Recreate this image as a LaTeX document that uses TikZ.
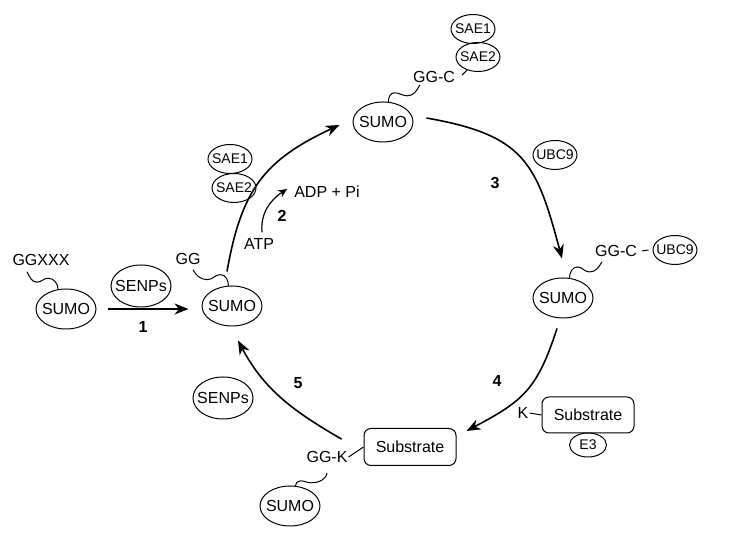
\documentclass[tikz, border = 0pt]{standalone}
\usepackage{fontspec}
\setmainfont{Liberation Sans}
\usetikzlibrary{shapes.geometric, arrows.meta}

\begin{document}
\begin{tikzpicture}[> = {Stealth[length = 14pt, width = 11pt]}, x = 1pt, y = 1pt,
	protein/.style = {draw, ellipse, line width = 1pt, inner xsep = -10pt, inner ysep = 0pt, minimum width = 60pt, minimum height = 40pt, font = \fontsize{16}{19}\selectfont},
	enzyme/.style = {draw, ellipse, line width = 1pt, inner xsep = -6pt, inner ysep = 0pt, minimum width = 44pt, minimum height = 29pt, font = \fontsize{14}{17}\selectfont},
	substrate/.style = {draw, rectangle, rounded corners = 7pt, line width = 1pt, minimum width = 92pt, minimum height = 37pt, font = \fontsize{16}{19}\selectfont},
	tag/.style = {inner sep = 1pt, font = \fontsize{16}{19}\selectfont},
	stepnum/.style = {inner sep = 1pt, font = \fontsize{16}{19}\selectfont\bfseries},
	linker/.style = {line width = 1pt}]

	\useasboundingbox (0, 0) rectangle (733, 545);

	\node [protein] (sumoA) at (66, 236) {SUMO};
	\node [protein, minimum height = 42pt] (senpsA) at (141, 259) {SENPs};
	\node [protein] (sumoB) at (232, 239) {SUMO};
	\node [protein] (sumoC) at (383, 423) {SUMO};
	\node [protein] (sumoD) at (563, 247) {SUMO};
	\node [protein] (sumoE) at (290, 39) {SUMO};
	\node [protein, minimum height = 42pt] (senpsB) at (223, 147) {SENPs};

	\node [enzyme] (sae1A) at (230, 386) {SAE1};
	\node [enzyme] (sae2A) at (234, 357) {SAE2};
	\node [enzyme] (sae1B) at (473, 516) {SAE1};
	\node [enzyme] (sae2B) at (478, 488) {SAE2};
	\node [enzyme] (ubcA) at (555, 390) {UBC9};
	\node [enzyme] (ubcB) at (675, 295) {UBC9};

	\node [substrate] (subA) at (410, 98) {Substrate};
	\node [substrate, minimum height = 36pt] (subB) at (588, 130) {Substrate};
	\node [enzyme, minimum width = 37pt, minimum height = 24pt] (eThree) at (588, 100) {E3};

	\node [tag] (ggxxx) at (41, 285) {GGXXX};
	\node [tag] (gg) at (188, 286) {GG};
	\node [tag] (ggcA) at (434, 468) {GG-C};
	\node [tag] (ggcB) at (616, 294) {GG-C};
	\node [tag] (ggk) at (327, 88) {GG-K};
	\node [tag] (kB) at (523, 132) {K};
	\node [tag] (atp) at (259, 301) {ATP};
	\node [tag] (adp) at (327, 353) {ADP + Pi};

	\node [stepnum] (one) at (143, 218) {1};
	\node [stepnum] (two) at (282, 329) {2};
	\node [stepnum] (three) at (495, 362) {3};
	\node [stepnum] (four) at (497, 164) {4};
	\node [stepnum] (five) at (298, 162) {5};

	\begin{scope}[->, line width = 1.6pt]

		\draw ([xshift = 11pt] sumoA.east) -- ([xshift = -13pt] sumoB.west |- sumoA.east);
		\draw ([shift = {(-5pt, 14pt)}] sumoB.north) to [out = 80, in = 205, looseness = 1.15] ([shift = {(-13pt, -3pt)}] sumoC.west);
		\draw ([shift = {(13pt, 4pt)}] sumoC.east) to [out = -10, in = 105, looseness = 1.3] ([shift = {(-1pt, 19pt)}] sumoD.north);
		\draw ([shift = {(-6pt, -10pt)}] sumoD.south) to [out = -108, in = 28, looseness = 1.2] ([shift = {(10pt, -3pt)}] subA.north east);
		\draw ([shift = {(-7pt, 11pt)}] ggk.north east) to [out = 150, in = -62] ([shift = {(6pt, -14pt)}] sumoB.south);

	\end{scope}

	\draw [line width = 1.2pt, > = {Stealth[length = 9pt, width = 8pt]}, ->] ([shift = {(3pt, 5pt)}] atp.north) to [out = 95, in = 213] ([shift = {(-6pt, 3pt)}] adp.west);

	\draw [linker] (sumoA.112) to [out = 90, in = 0] ++(-10, 11) to [out = 180, in = 0] ++(-11, -4) to [out = 180, in = -60] ([shift = {(-14pt, -5pt)}] ggxxx.south);
	\draw [linker] (sumoB.100) to [out = 90, in = 0] ++(-8, 11) to [out = 180, in = 0] ++(-13, -5) to [out = 180, in = -60] ([shift = {(5pt, -4pt)}] gg.south);
	\draw [linker] (sumoC.75) to [out = 90, in = 180] ++(6, 9) to [out = 0, in = 180] ++(13, -3) to [out = 0, in = -120] ([shift = {(8pt, -1pt)}] ggcA.south west);
	\draw [linker] (sumoD.72) to [out = 90, in = 180] ++(8, 11) to [out = 0, in = 180] ++(12, -5) to [out = 0, in = -120] ([shift = {(8pt, -4pt)}] ggcB.south west);
	\draw [linker] (sumoE.75) to [out = 90, in = 180] ++(5, 5) to [out = 0, in = 180] ++(11, -2) to [out = 0, in = -100] ([yshift = -9pt] ggk.south);

	\draw [linker] ([shift = {(6pt, 2pt)}] ggcA.east) -- (sae2B.230);
	\draw [linker] ([xshift = 4pt] ggcB.east) -- ([xshift = -4pt] ubcB.west);
	\draw [linker] (kB.east) -- (subB.west);
	\draw [linker] (ggk.east) -- (subA.west);

\end{tikzpicture}
\end{document}
